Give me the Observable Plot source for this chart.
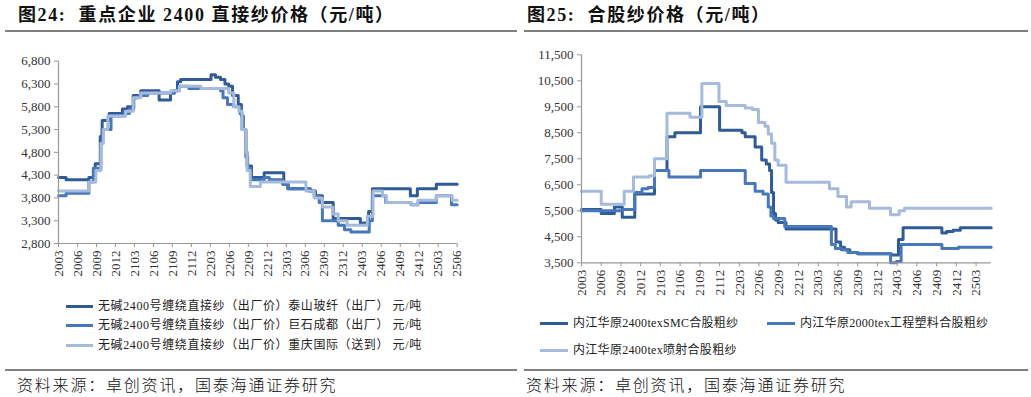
<!DOCTYPE html>
<html><head><meta charset="utf-8">
<script src="https://cdn.jsdelivr.net/npm/d3@7"></script>
<script src="https://cdn.jsdelivr.net/npm/@observablehq/plot@0.6"></script>
<style>
html,body{margin:0;padding:0;background:#fff;}
body{width:1031px;height:397px;position:relative;overflow:hidden;font-family:"Liberation Serif","Noto Sans CJK SC",serif;}
.abs{position:absolute;white-space:nowrap;}
.title{font-size:18px;font-weight:bold;color:#111;line-height:22px;letter-spacing:1.6px;font-family:"Liberation Serif","Noto Sans CJK SC",serif;}
.rule{position:absolute;height:2px;background:#7f7f7f;}
.leg{font-size:12px;color:#222;line-height:16px;letter-spacing:0.6px;font-family:"Liberation Serif","Noto Sans CJK SC",serif;}
.legR{letter-spacing:0.3px;}
.legline{position:absolute;height:3px;}
.src{font-size:16px;color:#111;line-height:20px;letter-spacing:1.8px;font-family:"Noto Sans CJK SC",sans-serif;font-weight:300;}
.chart{position:absolute;top:0;}
</style></head><body>
<div class="abs title" style="left:18px;top:4px;">图24:&nbsp; 重点企业 2400 直接纱价格（元/吨）</div>
<div class="abs title" style="left:527px;top:4px;">图25:&nbsp; 合股纱价格（元/吨）</div>
<div class="rule" style="left:5px;width:512px;top:30px;"></div>
<div class="rule" style="left:524px;width:504px;top:30px;"></div>
<div id="left" class="chart" style="left:0;"></div>
<div id="right" class="chart" style="left:520px;"></div>
<div id="legL"></div>
<div id="legR"></div>
<div class="rule" style="left:5px;width:512px;top:369px;"></div>
<div class="rule" style="left:524px;width:504px;top:369px;"></div>
<div class="abs src" style="left:17px;top:374px;">资料来源：卓创资讯，国泰海通证券研究</div>
<div class="abs src" style="left:526px;top:374px;">资料来源：卓创资讯，国泰海通证券研究</div>
<script>
// ---------- Left chart data (month index from 2020-03) ----------
const leftTickMonths = [0,3,6,9,12,15,18,21,24,27,30,33,36,39,42,45,48,51,54,57,60,63];
const leftTickLabels = ["2003","2006","2009","2012","2103","2106","2109","2112","2203","2206","2209","2212","2303","2306","2309","2312","2403","2406","2409","2412","2503","2506"];
const leftYTicks = [2800,3300,3800,4300,4800,5300,5800,6300,6800];
const leftNames = ["无碱2400号缠绕直接纱（出厂价）泰山玻纤（出厂） 元/吨","无碱2400号缠绕直接纱（出厂价）巨石成都（出厂） 元/吨","无碱2400号缠绕直接纱（出厂价）重庆国际（送到） 元/吨"];
const taishan = [[0,4250],[1.2,4200],[4.8,4250],[5.8,4550],[6.6,5150],[6.9,5500],[8.0,5650],[10.1,5750],[10.9,5800],[11.8,6050],[13.0,6150],[15.9,5950],[17.7,6100],[18.3,6150],[18.8,6350],[19.3,6400],[24.1,6500],[24.8,6450],[25.6,6400],[26.3,6300],[26.9,6250],[27.5,6050],[28.4,5850],[28.9,5600],[29.2,5300],[29.6,4800],[29.8,4500],[30.5,4250],[32.5,4350],[35.6,4100],[36.3,4000],[39.8,3950],[40.6,3850],[41.7,3700],[43.4,3350],[47.7,3250],[49.0,3500],[49.6,4000],[55.6,3850],[56.7,4000],[59.7,4100],[63,4100]];
const jushi = [[0,3850],[1.2,3900],[4.8,4150],[5.5,4450],[6.7,5000],[6.9,5300],[8.3,5600],[10.4,5650],[11.2,5750],[11.9,6000],[12.7,6050],[14.1,6100],[18.3,6150],[19.1,6250],[20.6,6200],[25.6,6150],[26.0,6000],[26.7,5850],[27.7,5800],[28.7,5650],[29.0,5300],[29.6,4700],[29.9,4450],[30.4,4200],[32.5,4250],[33.3,4200],[35.4,4100],[36.2,4000],[39.6,3950],[40.4,3850],[41.2,3700],[41.7,3300],[44.2,3200],[45.2,3100],[46.2,3050],[49.1,3300],[49.6,3850],[51.7,3700],[55.7,3650],[56.8,3700],[59.7,3850],[62.1,3650],[63,3650]];
const chongqing = [[0,3950],[4.8,4150],[5.9,4400],[6.7,5000],[7.1,5300],[7.8,5600],[10.6,5700],[11.8,6000],[13.0,6100],[17.7,6150],[19.1,6250],[22.5,6200],[26.9,6100],[27.7,5800],[28.5,5700],[29.0,5300],[29.6,4800],[29.8,4400],[30.3,4050],[31.9,4150],[39.1,3950],[40.4,3800],[41.7,3600],[43.3,3450],[44.2,3300],[45.6,3200],[48.8,3400],[49.7,3950],[51.2,3850],[51.8,3700],[55.7,3650],[56.8,3750],[59.7,3850],[62.2,3750],[63,3750]];

// ---------- Right chart data ----------
const rightTickMonths = [0,3,6,9,12,15,18,21,24,27,30,33,36,39,42,45,48,51,54,57,60];
const rightTickLabels = ["2003","2006","2009","2012","2103","2106","2109","2112","2203","2206","2209","2212","2303","2306","2309","2312","2403","2406","2409","2412","2503"];
const rightYTicks = [3500,4500,5500,6500,7500,8500,9500,10500,11500];
const rightNames = ["内江华原2400texSMC合股粗纱","内江华原2000tex工程塑料合股粗纱","内江华原2400tex喷射合股粗纱"];
const smc = [[0,5550],[3.0,5400],[5.0,5650],[6.2,5250],[8.1,6150],[11.1,7050],[13.0,8350],[14.2,8500],[18.1,9500],[21.0,8600],[24.4,8500],[24.9,8350],[26.4,7950],[27.4,7450],[28.1,7300],[28.6,7050],[28.9,6200],[29.2,5400],[29.5,5150],[29.9,5050],[31.1,4800],[38.7,4300],[39.4,4100],[40.0,4000],[40.8,3900],[42.0,3850],[47.1,3800],[48.2,4400],[48.9,4850],[54.8,4650],[55.5,4700],[56.5,4750],[57.6,4850],[62.3,4850]];
const eng2000 = [[0,5500],[6.2,5550],[8.1,6200],[9.2,6350],[10.1,6400],[11.1,7050],[13.3,6800],[18.1,7050],[24.9,6550],[26.4,6250],[27.6,6150],[28.4,5650],[28.8,5300],[29.2,5200],[30.9,4900],[38.0,4200],[38.6,4050],[39.5,4000],[40.5,3900],[42.0,3850],[47.0,3500],[47.9,3550],[48.6,4200],[54.8,4050],[57.3,4100],[62.3,4100]];
const spray = [[0,6250],[3.0,5750],[6.5,6250],[7.9,6800],[10.3,6850],[11.1,7500],[13.0,9250],[16.5,9100],[18.3,10400],[20.9,9700],[22.0,9550],[24.9,9450],[26.0,9400],[26.9,8900],[27.9,8750],[28.4,8450],[28.9,8100],[29.4,7450],[29.9,7250],[31.1,6600],[37.7,6350],[39.0,6050],[40.3,5650],[41.0,5850],[43.8,5600],[47.0,5350],[48.3,5500],[49.1,5600],[62.3,5600]];

const colors = ["#305b96","#4678bb","#a6badb"];

function rows(names, series) {
  return series.flatMap((arr, i) => arr.map(([m, v]) => ({s: names[i], m, v})));
}

function chart({data, names, xDomain, yDomain, yTicks, tickMonths, tickLabels, width, marginLeft, marginRight, marginTop, marginBottom}) {
  return Plot.plot({
    width, height: 300,
    marginLeft, marginRight, marginTop, marginBottom,
    style: {fontFamily: "'Liberation Serif', serif", fontSize: "13px", color: "#333", background: "transparent", overflow: "visible"},
    x: {domain: xDomain, label: null},
    y: {domain: yDomain, label: null},
    color: {domain: names, range: colors},
    marks: [
      Plot.line(data, {x: "m", y: "v", z: "s", stroke: "s", curve: "step-after", strokeWidth: 3, strokeLinejoin: "round"}),
      Plot.ruleX([xDomain[0]], {stroke: "#999", strokeWidth: 1.2}),
      Plot.ruleY([yDomain[0]], {stroke: "#999", strokeWidth: 1.2}),
      Plot.axisY({ticks: yTicks, tickFormat: d3.format(","), tickSize: 4, tickPadding: 4, stroke: "#999"}),
      Plot.axisX({ticks: tickMonths, tickFormat: d => tickLabels[tickMonths.indexOf(d)], tickRotate: -90, tickSize: 4, tickPadding: 3, stroke: "#999"})
    ]
  });
}

document.getElementById("left").append(chart({
  data: rows(leftNames, [taishan, jushi, chongqing]), names: leftNames,
  xDomain: [0, 63], yDomain: [2800, 6800], yTicks: leftYTicks,
  tickMonths: leftTickMonths, tickLabels: leftTickLabels,
  width: 515, marginLeft: 58, marginRight: 58.3, marginTop: 60.7, marginBottom: 57
}));
document.getElementById("right").append(chart({
  data: rows(rightNames, [smc, eng2000, spray]), names: rightNames,
  xDomain: [0, 62.3], yDomain: [3500, 11500], yTicks: rightYTicks,
  tickMonths: rightTickMonths, tickLabels: rightTickLabels,
  width: 511, marginLeft: 61, marginRight: 40.3, marginTop: 54.3, marginBottom: 37.7
}));

// ---------- Legends ----------
function legItem(parent, x, y, lineW, color, label, extraClass) {
  const l = document.createElement("div");
  l.className = "legline";
  l.style.left = x + "px"; l.style.top = (y - 1.5) + "px"; l.style.width = lineW + "px"; l.style.background = color;
  parent.append(l);
  const t = document.createElement("div");
  t.className = "abs leg" + (extraClass ? " " + extraClass : "");
  t.style.left = (x + lineW + 5) + "px"; t.style.top = (y - 8) + "px";
  t.textContent = label;
  parent.append(t);
}
const legL = document.getElementById("legL");
legItem(legL, 66, 306, 27, colors[0], leftNames[0]);
legItem(legL, 66, 325, 27, colors[1], leftNames[1]);
legItem(legL, 66, 345, 27, colors[2], leftNames[2]);
const legR = document.getElementById("legR");
legItem(legR, 540, 323, 28, colors[0], rightNames[0], "legR");
legItem(legR, 767, 323, 28, colors[1], rightNames[1], "legR");
legItem(legR, 540, 350, 28, colors[2], rightNames[2], "legR");
</script>
</body></html>
